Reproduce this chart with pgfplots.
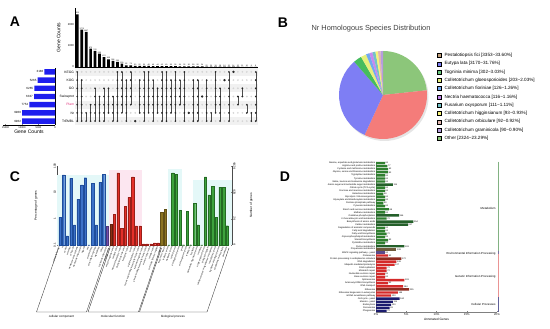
\documentclass[border=0pt]{standalone}
\usepackage{pgfplots}
\pgfplotsset{compat=1.18}
\usepackage{fontspec}
\setmainfont{Liberation Sans}
\setsansfont{Liberation Sans}
\newcommand{\fs}[1]{\fontsize{#1}{#1}\selectfont}
\pgfplotsset{/pgf/number format/assume math mode=true, /pgf/number format/1000 sep={}}
\definecolor{upbar}{HTML}{1E1EEE}
\definecolor{pfamc}{HTML}{E0307A}
\definecolor{dotgray}{HTML}{D4D4D4}
\definecolor{rowgray}{HTML}{F1F1F1}
\definecolor{sOther}{HTML}{8CC67A}
\definecolor{sPest}{HTML}{F47C7A}
\definecolor{sEut}{HTML}{7E7EF4}
\definecolor{sTog}{HTML}{45BC5E}
\definecolor{sGlo}{HTML}{E6F07C}
\definecolor{sFio}{HTML}{72A8F0}
\definecolor{sNec}{HTML}{C68AF0}
\definecolor{sFus}{HTML}{74C2C6}
\definecolor{sHig}{HTML}{F6F47A}
\definecolor{sOrb}{HTML}{E2B8B0}
\definecolor{sGra}{HTML}{B69DDE}
\definecolor{lPest}{HTML}{C3A27E}
\definecolor{ccF}{HTML}{3C72C8}
\definecolor{ccD}{HTML}{1F4E9C}
\definecolor{mfF}{HTML}{E4302A}
\definecolor{mfD}{HTML}{9A1E18}
\definecolor{bpF}{HTML}{3DA23D}
\definecolor{bpD}{HTML}{236B23}
\definecolor{goP}{HTML}{6E4FB0}
\definecolor{goB}{HTML}{8A2E12}
\definecolor{goO}{HTML}{8A7420}
\definecolor{hlC}{HTML}{E4F8F8}
\definecolor{hlP}{HTML}{FCE6F0}
\definecolor{kG}{HTML}{2F7F2F}
\definecolor{kDG}{HTML}{24602A}
\definecolor{kBr}{HTML}{6E5A3A}
\definecolor{kPu}{HTML}{5A4A8A}
\definecolor{kR}{HTML}{D42A2A}
\definecolor{kDR}{HTML}{8E2A1E}
\definecolor{kN}{HTML}{1C1C6E}
\newcommand{\slice}[3]{\fill[#1] (axis cs:0,0) -- ++(#2:44pt) arc[start angle=#2, end angle=#3, radius=44pt] -- cycle;}
\begin{document}
\begin{tikzpicture}
\path[use as bounding box] (0pt,0pt) rectangle (550pt,329pt);
\node[font={\fs{14}\bfseries}] at (15pt,307pt) {A};
\node[font={\fs{14}\bfseries}] at (283pt,306pt) {B};
\node[font={\fs{14}\bfseries}] at (15pt,152pt) {C};
\node[font={\fs{14}\bfseries}] at (285pt,152pt) {D};

%%%%%%%%%%%% A: intersection sizes
\begin{axis}[
  at={(75pt,262pt)}, anchor=south west, scale only axis,
  width=183pt, height=59pt,
  xmin=0.5, xmax=41.5, ymin=0, ymax=2810,
  axis x line*=bottom, axis y line*=left,
  axis line style={line width=0.4pt, -},
  xtick=\empty, ytick={0,1000,2000},
  yticklabel style={font=\fs{2.8}, inner sep=0.8pt},
  major tick length=1.5pt, tick style={line width=0.3pt},
  ylabel={Gene Counts}, ylabel style={font=\fs{5}, at={(axis description cs:-0.09,0.5)}, anchor=center},
  clip=false,
]
\addplot[ybar, bar width=2.7pt, bar shift=0pt, fill=black, draw=none,
  nodes near coords, nodes near coords style={font=\fs{1.9}, inner sep=0.3pt}]
coordinates {(1,2511)(2,1778)(3,1667)(4,873)(5,762)(6,635)(7,476)(8,365)(9,286)(10,238)
(11,159)(12,82)(13,79)(14,55)(15,52)(16,50)(17,48)(18,46)(19,44)(20,42)
(21,40)(22,38)(23,36)(24,34)(25,32)(26,30)(27,28)(28,26)(29,24)(30,22)
(31,20)(32,19)(33,18)(34,16)(35,15)(36,14)(37,12)(38,11)(39,10)(40,9)(41,8)};
\end{axis}

%%%%%%%%%%%% A: matrix
\begin{axis}[
  at={(75pt,203.8pt)}, anchor=south west, scale only axis,
  width=183pt, height=57.4pt,
  xmin=0.5, xmax=41.5, ymin=0.5, ymax=7.5,
  axis line style={draw=none}, tick style={draw=none},
  xtick=\empty, ytick={1,2,3,4,5,6,7},
  yticklabels={TrEMBL,Nr,\textcolor{pfamc}{Pfam},Swissprot,GO,KOG,KEGG},
  yticklabel style={font=\fs{3.3}, inner sep=0.8pt},
  clip=false,
]
\addplot[fill=rowgray, draw=none] coordinates {(0.5,0.5)(41.5,0.5)(41.5,1.5)(0.5,1.5)} -- cycle;
\addplot[fill=rowgray, draw=none] coordinates {(0.5,2.5)(41.5,2.5)(41.5,3.5)(0.5,3.5)} -- cycle;
\addplot[fill=rowgray, draw=none] coordinates {(0.5,4.5)(41.5,4.5)(41.5,5.5)(0.5,5.5)} -- cycle;
\addplot[fill=rowgray, draw=none] coordinates {(0.5,6.5)(41.5,6.5)(41.5,7.5)(0.5,7.5)} -- cycle;
\addplot[dotgray, line width=1.9pt, line cap=round, dash pattern=on 0pt off 4.463pt, unbounded coords=jump]
 coordinates {(1,1)(41,1)(41,nan)(1,2)(41,2)(41,nan)(1,3)(41,3)(41,nan)(1,4)(41,4)(41,nan)(1,5)(41,5)(41,nan)(1,6)(41,6)(41,nan)(1,7)(41,7)};
\addplot[black!70, line width=0.45pt, unbounded coords=jump] coordinates {
(1,1)(1,7)(1,nan)(2,1)(2,6)(2,nan)(3,1)(3,2)(3,nan)(4,1)(4,3)(4,nan)(5,1)(5,5)(5,nan)(6,1)(6,4)(6,nan)(7,1)(7,5)(7,nan)(8,2)(8,5)(8,nan)(9,1)(9,4)(9,nan)(10,1)(10,7)(10,nan)(11,2)(11,7)(11,nan)(12,1)(12,6)(12,nan)(13,3)(13,7)(13,nan)(15,2)(15,6)(15,nan)(16,1)(16,7)(16,nan)(17,2)(17,7)(17,nan)(18,1)(18,6)(18,nan)(19,2)(19,5)(19,nan)(20,1)(20,7)(20,nan)(21,1)(21,7)(21,nan)(22,2)(22,6)(22,nan)(23,1)(23,7)(23,nan)(24,3)(24,6)(24,nan)(25,1)(25,7)(25,nan)(27,1)(27,6)(27,nan)(28,1)(28,6)(28,nan)(30,1)(30,6)(30,nan)(31,1)(31,2)(31,nan)(32,2)(32,7)(32,nan)(33,1)(33,5)(33,nan)(35,1)(35,7)(35,nan)(37,3)(37,4)(37,nan)(38,4)(38,5)(38,nan)(39,2)(39,3)(39,nan)(40,1)(40,2)(40,nan)(41,1)(41,7)};
\addplot[black!85, line width=1.9pt, line cap=round, dash pattern=on 0pt off 8.19pt, unbounded coords=jump] coordinates {
(1,1)(1,7)(1,nan)(2,1)(2,6)(2,nan)(3,1)(3,2)(3,nan)(4,1)(4,3)(4,nan)(5,1)(5,5)(5,nan)(6,1)(6,4)(6,nan)(7,1)(7,5)(7,nan)(8,2)(8,5)(8,nan)(9,1)(9,4)(9,nan)(10,1)(10,7)(10,nan)(11,2)(11,7)(11,nan)(12,1)(12,6)(12,nan)(13,3)(13,7)(13,nan)(15,2)(15,6)(15,nan)(16,1)(16,7)(16,nan)(17,2)(17,7)(17,nan)(18,1)(18,6)(18,nan)(19,2)(19,5)(19,nan)(20,1)(20,7)(20,nan)(21,1)(21,7)(21,nan)(22,2)(22,6)(22,nan)(23,1)(23,7)(23,nan)(24,3)(24,6)(24,nan)(25,1)(25,7)(25,nan)(27,1)(27,6)(27,nan)(28,1)(28,6)(28,nan)(30,1)(30,6)(30,nan)(31,1)(31,2)(31,nan)(32,2)(32,7)(32,nan)(33,1)(33,5)(33,nan)(35,1)(35,7)(35,nan)(37,3)(37,4)(37,nan)(38,4)(38,5)(38,nan)(39,2)(39,3)(39,nan)(40,1)(40,2)(40,nan)(41,1)(41,7)};
\addplot[only marks, mark=*, mark size=0.95pt, black!85] coordinates {(14,1)(26,2)(29,4)(34,6)(36,7)};
\end{axis}

%%%%%%%%%%%% A: set sizes
\begin{axis}[
  at={(3pt,203.8pt)}, anchor=south west, scale only axis,
  width=52pt, height=57.4pt,
  xmin=0, xmax=15760, ymin=0.5, ymax=7.5, x dir=reverse,
  axis x line*=bottom, axis y line*=right,
  axis line style={line width=0.35pt, -},
  ytick=\empty, xtick={0,5000,10000,15000}, scaled x ticks=false,
  xticklabel style={font=\fs{2.6}, inner sep=0.8pt},
  major tick length=1.2pt,
  xlabel={Gene Counts}, xlabel style={font=\fs{5}, inner sep=0.5pt},
  clip=false,
]
\addplot[xbar, bar width=5.4pt, bar shift=0pt, fill=upbar, draw=none,
  nodes near coords, point meta=x, nodes near coords style={font=\fs{3}, anchor=east, inner sep=1pt}]
  coordinates {(9962,1)(9960,2)(7752,3)(6337,4)(6265,5)(5265,6)(3186,7)};
\end{axis}

%%%%%%%%%%%% B: pie
\node[font=\fs{7.4}, text=black!75] at (371pt,300pt) {Nr Homologous Species Distribution};
\begin{axis}[
  at={(333pt,184pt)}, anchor=south west, scale only axis,
  width=100pt, height=100pt, xmin=-50, xmax=50, ymin=-50, ymax=50,
  hide axis, clip=false,
  legend image code/.code={\fill[#1] (0pt,-2pt) rectangle (4.2pt,2pt);},
  legend style={at={(1.04,0.92)}, anchor=north west, draw=none, fill=none,
     font=\fs{4.6}, inner sep=0pt, row sep=3.8pt, column sep=2.8pt,
     nodes={inner sep=0pt, text height=3.4pt, text depth=1.1pt}},
  legend cell align=left,
]
\fill[black!10] (axis cs:1.5,-2) circle[radius=44pt];
\slice{sOther}{90}{6.16}
\slice{sPest}{6.16}{-114.80}
\slice{sEut}{-114.80}{-229.14}
\slice{sTog}{-229.14}{-240.05}
\slice{sGlo}{-240.05}{-247.36}
\slice{sFio}{-247.36}{-251.90}
\slice{sNec}{-251.90}{-256.08}
\slice{sFus}{-256.08}{-260.08}
\slice{sHig}{-260.08}{-263.43}
\slice{sOrb}{-263.43}{-266.74}
\slice{sGra}{-266.74}{-270}
\addlegendimage{fill=lPest}\addlegendentry{Pestalotiopsis fici [3353\textasciitilde 33.60\%]}
\addlegendimage{fill=sEut}\addlegendentry{Eutypa lata [3170\textasciitilde 31.76\%]}
\addlegendimage{fill=sTog!80!white}\addlegendentry{Togninia minima [302\textasciitilde 3.03\%]}
\addlegendimage{fill=sGlo}\addlegendentry{Colletotrichum gloeosporioides [203\textasciitilde 2.03\%]}
\addlegendimage{fill=sFio}\addlegendentry{Colletotrichum fioriniae [126\textasciitilde 1.26\%]}
\addlegendimage{fill=sNec}\addlegendentry{Nectria haematococca [116\textasciitilde 1.16\%]}
\addlegendimage{fill=sFus}\addlegendentry{Fusarium oxysporum [111\textasciitilde 1.11\%]}
\addlegendimage{fill=sHig}\addlegendentry{Colletotrichum higginsianum [93\textasciitilde 0.93\%]}
\addlegendimage{fill=sOrb}\addlegendentry{Colletotrichum orbiculare [92\textasciitilde 0.92\%]}
\addlegendimage{fill=sGra}\addlegendentry{Colletotrichum graminicola [90\textasciitilde 0.90\%]}
\addlegendimage{fill=sOther}\addlegendentry{Other [2324\textasciitilde 23.29\%]}
\end{axis}

%%%%%%%%%%%% C: GO
\begin{axis}[
  at={(57pt,84pt)}, anchor=south west, scale only axis,
  width=175pt, height=79pt,
  xmin=-0.8, xmax=47.3, ymode=log, ymin=0.1, ymax=100, log origin=infty,
  axis y line*=left, axis x line*=bottom,
  axis line style={line width=0.35pt, black!70, -},
  x axis line style={draw=none},
  ytick={0.1,1,10,100}, yticklabels={0.1,1,10,100}, yminorticks=false,
  yticklabel style={font=\fs{3}, rotate=90, anchor=south, inner sep=1pt},
  major tick length=1.5pt,
  xtick={0,...,46},
  xticklabels={extracellular region, cell, nucleoid, membrane, cell junction, membrane-enclosed lumen, macromolecular complex, organelle, virion, membrane part, extracellular region part, organelle part, cell part, supramolecular complex, antioxidant activity, enzyme regulator activity, catalytic activity, molecular transducer activity, structural molecule activity, transporter activity, binding, signal transducer activity, nucleic acid binding transcription factor activity, translation regulator activity, protein binding transcription factor activity, electron carrier activity, receptor activity, molecular function regulator, signaling, response to stimulus, rhythmic process, metabolic process, cellular process, developmental process, growth, multi-organism process, reproduction, localization, multicellular organismal process, locomotion, single-organism process, biological regulation, cellular component organization or biogenesis, reproductive process, regulation of biological process, establishment of localization, detoxification},
  xticklabel style={font=\fs{2.1}, rotate=70, anchor=east, inner sep=0.4pt},
  xtick style={draw=none},
  ylabel={Percentage of genes}, ylabel style={font=\fs{3.2}, at={(axis description cs:-0.12,0.5)}, anchor=center},
  clip=false,
]
\addplot[fill=hlC, draw=none] coordinates {(-0.9,0.1)(-0.9,46)(13.5,46)(13.5,0.1)} -- cycle;
\addplot[fill=hlP, draw=none] coordinates {(13.6,0.1)(13.6,70)(22.6,70)(22.6,0.1)} -- cycle;
\addplot[fill=hlC, draw=none] coordinates {(29.6,0.1)(29.6,80)(33.6,80)(33.6,0.1)} -- cycle;
\addplot[fill=hlC, draw=none] coordinates {(36.6,0.1)(36.6,30)(47.3,30)(47.3,0.1)} -- cycle;
\addplot[ybar, bar width=2.3pt, bar shift=0pt, fill=ccF, draw=ccD, line width=0.3pt]
 coordinates {(0,1.13)(1,46)(2,0.22)(3,34)(4,0.58)(5,5.5)(6,19)(7,36)(8,0.1)(9,22)(10,0.58)(11,24)(12,49)};
\addplot[ybar, bar width=2.3pt, bar shift=0pt, fill=goP, draw=goP!70!black, line width=0.3pt]
 coordinates {(13,0.54)};
\addplot[ybar, bar width=2.3pt, bar shift=0pt, fill=goB, draw=goB!70!black, line width=0.3pt]
 coordinates {(14,0.61)};
\addplot[ybar, bar width=2.3pt, bar shift=0pt, fill=mfF, draw=mfD, line width=0.3pt]
 coordinates {(15,1.47)(16,55)(17,0.43)(18,3.0)(19,6.5)(20,39)(21,0.53)(22,0.53)(23,0.11)(24,0.11)(25,0.11)(26,0.12)(27,0.12)};
\addplot[ybar, bar width=2.3pt, bar shift=0pt, fill=goO, draw=goO!70!black, line width=0.3pt]
 coordinates {(28,1.75)(29,2.3)};
\addplot[ybar, bar width=2.3pt, bar shift=0pt, fill=bpF, draw=bpD, line width=0.3pt]
 coordinates {(30,0.1)(31,55)(32,49)(33,2.1)(34,0.1)(35,1.95)(36,0.1)(37,3.8)(38,0.58)(39,0.1)(40,39)(41,8)(42,17)(43,1.13)(44,15.6)(45,15.6)(46,0.54)};
\end{axis}
\begin{axis}[
  at={(57pt,84pt)}, anchor=south west, scale only axis,
  width=175pt, height=79pt,
  xmin=-0.8, xmax=47.3, ymode=log, ymin=6.265, ymax=6265,
  axis y line*=right, axis x line=none,
  axis line style={line width=0.35pt, black!70, -},
  ytick={6.265,62.65,626.5,6265}, yticklabels={6,62,626,6265}, yminorticks=false,
  yticklabel style={font=\fs{3}, rotate=90, anchor=north, inner sep=1pt},
  major tick length=1.5pt,
  ylabel={Number of genes}, ylabel style={font=\fs{3.2}, at={(axis description cs:1.11,0.5)}, anchor=center},
]
\end{axis}
\draw[black!80, line width=0.35pt] (58.5pt,81pt) -- (36.5pt,17pt) -- (86.5pt,17pt) -- (108.5pt,81pt);
\draw[black!80, line width=0.35pt] (110pt,81pt) -- (88pt,17pt) -- (138.5pt,17pt) -- (160.5pt,81pt);
\draw[black!80, line width=0.35pt] (161.5pt,81pt) -- (139.5pt,17pt) -- (207pt,17pt) -- (229pt,81pt);
\node[font=\fs{3}] at (61.5pt,12.5pt) {cellular component};
\node[font=\fs{3}] at (113pt,12.5pt) {molecular function};
\node[font=\fs{3}] at (173pt,12.5pt) {biological process};

%%%%%%%%%%%% D: KEGG
\begin{axis}[
  at={(376pt,16.5pt)}, anchor=south west, scale only axis,
  width=121pt, height=151pt,
  xmin=0, xmax=820, ymin=0.5, ymax=49.5, y dir=reverse,
  axis x line*=bottom, axis y line*=left,
  axis line style={line width=0.3pt, black!50, -},
  xtick={0,205,410,615,820}, xticklabels={0\%,5\%,10\%,15\%,20\%},
  xticklabel style={font=\fs{2.8}, inner sep=1pt},
  ytick={1,...,49},
  yticklabels={{Alanine, aspartate and glutamate metabolism},{Arginine and proline metabolism},{Cysteine and methionine metabolism},{Glycine, serine and threonine metabolism},{Tryptophan metabolism},{Tyrosine metabolism},{Valine, leucine and isoleucine degradation},{Amino sugar and nucleotide sugar metabolism},{Citrate cycle (TCA cycle)},{Fructose and mannose metabolism},{Galactose metabolism},{Glycolysis / Gluconeogenesis},{Glyoxylate and dicarboxylate metabolism},{Pentose phosphate pathway},{Pyruvate metabolism},{Starch and sucrose metabolism},{Methane metabolism},{Oxidative phosphorylation},{2-Oxocarboxylic acid metabolism},{Biosynthesis of amino acids},{Carbon metabolism},{Degradation of aromatic compounds},{Fatty acid degradation},{Fatty acid biosynthesis},{Glycerophospholipid metabolism},{Steroid biosynthesis},{Pyrimidine metabolism},{Purine metabolism},{Propanoate metabolism},{MAPK signaling pathway - yeast},{Proteasome},{Protein processing in endoplasmic reticulum},{RNA degradation},{Ubiquitin mediated proteolysis},{DNA replication},{Mismatch repair},{Nucleotide excision repair},{Base excision repair},{Spliceosome},{Aminoacyl-tRNA biosynthesis},{RNA transport},{Ribosome},{Ribosome biogenesis in eukaryotes},{mRNA surveillance pathway},{Cell cycle - yeast},{Meiosis - yeast},{Endocytosis},{Peroxisome},{Phagosome}},
  yticklabel style={font=\fs{2.3}, inner sep=0.6pt},
  major tick length=1pt, ytick style={draw=none},
  xlabel={Annotated Genes}, xlabel style={font=\fs{3.2}, inner sep=1pt},
  clip=false,
  every node near coord/.append style={font=\fs{2.2}, inner sep=0.5pt},
]
\addplot[xbar, bar width=2.4pt, bar shift=0pt, fill=kG, draw=none, nodes near coords, point meta=x]
 coordinates {(61,1)(77,2)(82,3)(82,4)(61,5)(61,6)(61,7)(61,9)(61,10)(50,11)(61,12)(61,13)(50,14)(61,15)(88,16)(61,17)(72,19)(61,22)(61,23)(72,24)(61,25)(82,26)(61,27)};
\addplot[xbar, bar width=2.4pt, bar shift=0pt, fill=kDG, draw=none, nodes near coords, point meta=x]
 coordinates {(115,8)(156,18)(254,20)(217,21)(193,28)};
\addplot[xbar, bar width=2.4pt, bar shift=0pt, fill=kBr, draw=none, nodes near coords, point meta=x]
 coordinates {(138,29)};
\addplot[xbar, bar width=2.4pt, bar shift=0pt, fill=kPu, draw=none, nodes near coords, point meta=x]
 coordinates {(61,30)};
\addplot[xbar, bar width=2.4pt, bar shift=0pt, fill=kR, draw=none, nodes near coords, point meta=x]
 coordinates {(82,31)(138,33)(127,34)(72,35)(72,36)(61,37)(61,38)(193,39)(82,40)(184,41)(148,43)(103,44)};
\addplot[xbar, bar width=2.4pt, bar shift=0pt, fill=kDR, draw=none, nodes near coords, point meta=x]
 coordinates {(172,32)(225,42)};
\addplot[xbar, bar width=2.4pt, bar shift=0pt, fill=kN, draw=none, nodes near coords, point meta=x]
 coordinates {(160,45)(115,46)(103,47)(93,48)(72,49)};
\addplot[kG!60, line width=0.6pt] coordinates {(828,0.5)(828,29.5)};
\addplot[kPu!80, line width=0.6pt] coordinates {(828,29.5)(828,30.5)};
\addplot[kR!50, line width=0.6pt] coordinates {(828,30.5)(828,44.5)};
\addplot[kN!70, line width=0.6pt] coordinates {(828,44.5)(828,49.5)};
\node[font=\fs{2.9}, anchor=east, inner sep=0.5pt] at (axis cs:815,15.6) {Metabolism};
\node[font=\fs{2.9}, anchor=east, inner sep=0.5pt] at (axis cs:815,30.5) {Environmental Information Processing};
\node[font=\fs{2.9}, anchor=east, inner sep=0.5pt] at (axis cs:815,38) {Genetic Information Processing};
\node[font=\fs{2.9}, anchor=east, inner sep=0.5pt] at (axis cs:815,47) {Cellular Processes};
\end{axis}
\end{tikzpicture}
\end{document}
